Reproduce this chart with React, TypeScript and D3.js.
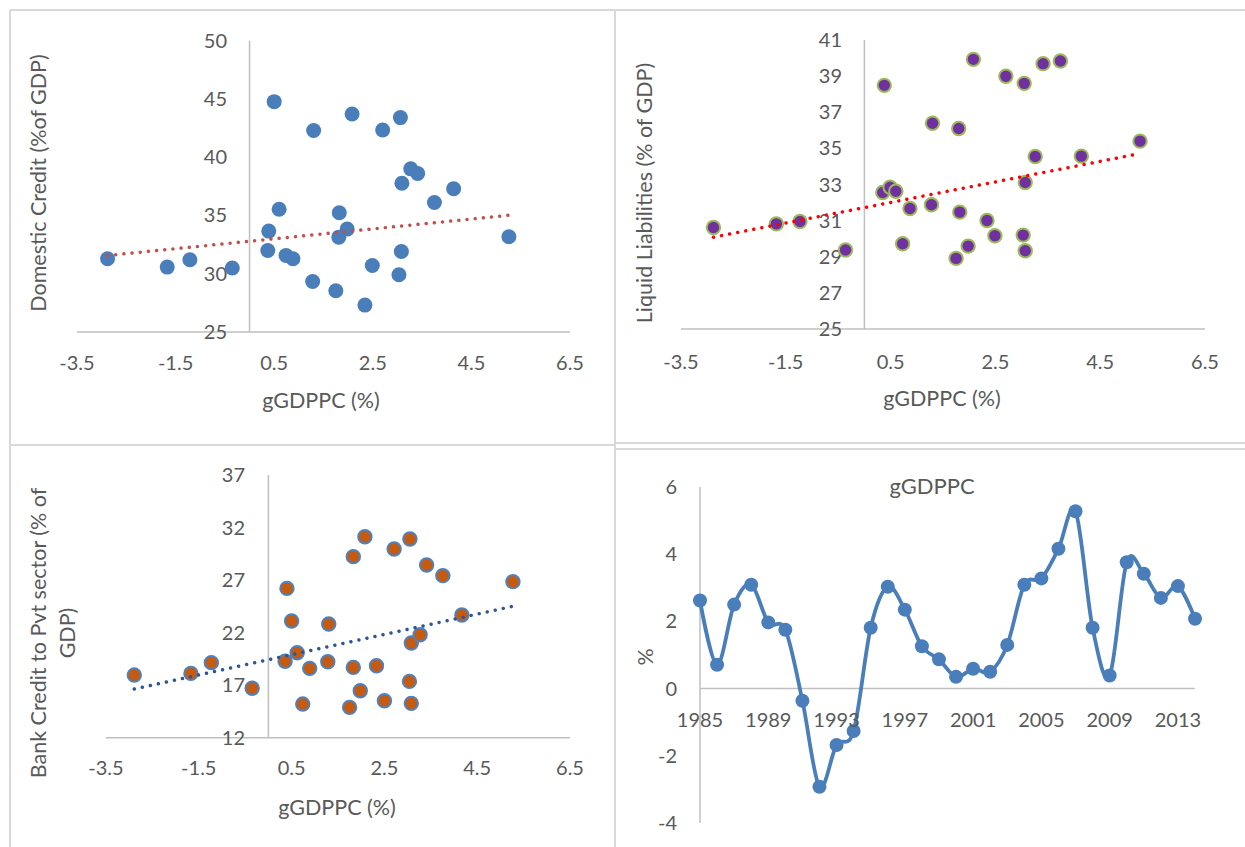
import React from 'react';
import * as d3 from 'd3';

// gGDPPC scatter data (x = growth, y = indicator)
const dcX = [-2.88, -1.67, -1.21, -0.35, 0.37, 0.39, 0.5, 0.6, 0.74, 0.88, 1.28, 1.3, 1.75, 1.81, 1.82, 1.98, 2.08, 2.34, 2.49, 2.7, 3.03, 3.06, 3.08, 3.09, 3.27, 3.41, 3.75, 4.14, 5.26];
const dcY = [31.29, 30.57, 31.2, 30.49, 32.0, 33.66, 44.77, 35.54, 31.57, 31.29, 29.34, 42.29, 28.54, 33.14, 35.23, 33.83, 43.71, 27.31, 30.71, 42.34, 29.91, 43.4, 31.91, 37.77, 39.0, 38.6, 36.11, 37.29, 33.17];
const dcTrend = [32.79, 0.424]; // intercept, slope

const llX = [-2.88, -1.68, -1.23, -0.36, 0.35, 0.38, 0.49, 0.6, 0.73, 0.87, 1.28, 1.3, 1.75, 1.8, 1.82, 1.98, 2.08, 2.34, 2.49, 2.7, 3.03, 3.05, 3.07, 3.07, 3.26, 3.41, 3.74, 4.14, 5.26];
const llY = [30.62, 30.82, 30.95, 29.37, 32.56, 38.49, 32.85, 32.63, 29.72, 31.67, 31.88, 36.39, 28.91, 36.1, 31.47, 29.59, 39.93, 31.01, 30.16, 38.99, 30.2, 38.6, 33.11, 29.33, 34.55, 39.69, 39.84, 34.57, 35.4];
const llTrend = [31.72, 0.569];

const bcX = [-2.89, -1.67, -1.23, -0.35, 0.36, 0.4, 0.5, 0.62, 0.74, 0.89, 1.28, 1.3, 1.75, 1.83, 1.83, 1.98, 2.08, 2.33, 2.5, 2.71, 3.04, 3.05, 3.08, 3.08, 3.27, 3.41, 3.76, 4.17, 5.27];
const bcY = [17.96, 18.12, 19.14, 16.7, 19.27, 26.21, 23.1, 20.09, 15.2, 18.6, 19.23, 22.82, 14.89, 29.23, 18.69, 16.47, 31.13, 18.85, 15.52, 29.96, 17.36, 30.91, 21.01, 15.27, 21.8, 28.43, 27.42, 23.68, 26.85];
const bcTrend = [19.42, 0.965];

const xTicks = [-3.5, -1.5, 0.5, 2.5, 4.5, 6.5];

const years = [1985, 1986, 1987, 1988, 1989, 1990, 1991, 1992, 1993, 1994, 1995, 1996, 1997, 1998, 1999, 2000, 2001, 2002, 2003, 2004, 2005, 2006, 2007, 2008, 2009, 2010, 2011, 2012, 2013, 2014];
const growth = [2.62, 0.71, 2.5, 3.09, 1.97, 1.75, -0.36, -2.92, -1.68, -1.26, 1.81, 3.03, 2.35, 1.26, 0.87, 0.35, 0.59, 0.5, 1.3, 3.09, 3.28, 4.16, 5.28, 1.81, 0.39, 3.76, 3.42, 2.7, 3.05, 2.08];
const yearLabels = [1985, 1989, 1993, 1997, 2001, 2005, 2009, 2013];
const growthTicks = [-4, -2, 0, 2, 4, 6];

const FONT = 'Lato, "Open Sans", sans-serif';
const TXT = '#595959';
const AXIS = '#bfbfbf';
const TITLE_SIZE = 21.5;

type ScatterProps = {
  xs: number[];
  ys: number[];
  trend: number[];
  xRange: [number, number];
  yDomain: [number, number];
  yRange: [number, number];
  yTicks: number[];
  yLabelX: number;
  xLabelY: number;
  titleLines: string[];
  titleX: number[];
  titleY: number;
  xTitle: [number, number];
  fill: string;
  stroke: string;
  trendColor: string;
};

const Scatter: React.FC<ScatterProps> = (p) => {
  const x = d3.scaleLinear().domain([-3.5, 6.5]).range(p.xRange);
  const y = d3.scaleLinear().domain(p.yDomain).range(p.yRange);
  const x0 = d3.min(p.xs)!;
  const x1 = d3.max(p.xs)!;
  const line = d3
    .line<number>()
    .x((d) => x(d))
    .y((d) => y(p.trend[0] + p.trend[1] * d));
  return (
    <g fontFamily={FONT}>
      <line x1={x(-3.5)} x2={x(6.5)} y1={y(p.yDomain[0])} y2={y(p.yDomain[0])} stroke={AXIS} strokeWidth={1.5} />
      <line x1={x(0)} x2={x(0)} y1={y(p.yDomain[0])} y2={y(p.yDomain[1])} stroke={AXIS} strokeWidth={1.5} />
      {p.yTicks.map((t) => (
        <text key={t} x={p.yLabelX} y={y(t)} dy="0.35em" textAnchor="end" fontSize={20} fill={TXT}>
          {t}
        </text>
      ))}
      {xTicks.map((t) => (
        <text key={t} x={x(t)} y={p.xLabelY} dy="0.35em" textAnchor="middle" fontSize={20} fill={TXT}>
          {t}
        </text>
      ))}
      {p.xs.map((d, i) => (
        <circle key={i} cx={x(d)} cy={y(p.ys[i])} r={p.stroke === 'none' ? 7.5 : 6.7} fill={p.fill} stroke={p.stroke} strokeWidth={2} />
      ))}
      <path
        d={line([x0, x1]) || ''}
        fill="none"
        stroke={p.trendColor}
        strokeWidth={3.5}
        strokeDasharray="0.01 8.2"
        strokeLinecap="round"
      />
      {p.titleLines.map((s, i) => (
        <text
          key={i}
          transform={`translate(${p.titleX[i]},${p.titleY}) rotate(-90)`}
          dy="0.35em"
          textAnchor="middle"
          fontSize={TITLE_SIZE}
          fill={TXT}
        >
          {s}
        </text>
      ))}
      <text x={p.xTitle[0]} y={p.xTitle[1]} dy="0.35em" textAnchor="middle" fontSize={TITLE_SIZE} fill={TXT}>
        gGDPPC (%)
      </text>
    </g>
  );
};

const GrowthLine: React.FC = () => {
  const x = d3.scalePoint<number>().domain(years).range([700, 1195]);
  const y = d3.scaleLinear().domain([-4, 6]).range([823, 487]);
  const path = d3
    .line<number>()
    .x((_d, i) => x(years[i])!)
    .y((d) => y(d))
    .curve(d3.curveCardinal.tension(0))(growth);
  return (
    <g fontFamily={FONT}>
      <line x1={700} x2={1195} y1={y(0)} y2={y(0)} stroke={AXIS} strokeWidth={1.5} />
      <line x1={700} x2={700} y1={y(-4)} y2={y(6)} stroke={AXIS} strokeWidth={1.5} />
      {growthTicks.map((t) => (
        <text key={t} x={677} y={y(t)} dy="0.35em" textAnchor="end" fontSize={20} fill={TXT}>
          {t}
        </text>
      ))}
      <path d={path || ''} fill="none" stroke="#4a7ebb" strokeWidth={3.8} />
      {growth.map((d, i) => (
        <circle key={i} cx={x(years[i])} cy={y(d)} r={7} fill="#4a7ebb" />
      ))}
      {yearLabels.map((t) => (
        <text key={t} x={x(t)} y={720} dy="0.35em" textAnchor="middle" fontSize={20} fill={TXT}>
          {t}
        </text>
      ))}
      <text x={932} y={486} dy="0.35em" textAnchor="middle" fontSize={22} fill={TXT}>
        gGDPPC
      </text>
      <text transform="translate(645,657) rotate(-90)" dy="0.35em" textAnchor="middle" fontSize={TITLE_SIZE} fill={TXT}>
        %
      </text>
    </g>
  );
};

export default function App() {
  const border = '#d9d9d9';
  return (
    <svg width={1245} height={847} style={{ position: 'absolute', left: 0, top: 0, background: '#fff' }}>
      <rect width={1245} height={847} fill="#fff" />
      <g stroke={border} strokeWidth={2}>
        <line x1={10} x2={1245} y1={10} y2={10} />
        <line x1={10} x2={10} y1={10} y2={847} />
        <line x1={615} x2={615} y1={10} y2={847} />
        <line x1={10} x2={615} y1={445} y2={445} />
        <line x1={615} x2={1245} y1={443} y2={443} />
        <line x1={615} x2={1245} y1={449} y2={449} />
      </g>
      <Scatter
        xs={dcX}
        ys={dcY}
        trend={dcTrend}
        xRange={[77, 570]}
        yDomain={[25, 50]}
        yRange={[332, 40.7]}
        yTicks={[25, 30, 35, 40, 45, 50]}
        yLabelX={227}
        xLabelY={363}
        titleLines={['Domestic Credit (%of GDP)']}
        titleX={[38]}
        titleY={183}
        xTitle={[321, 400]}
        fill="#4a7ebb"
        stroke="none"
        trendColor="#c0504d"
      />
      <Scatter
        xs={llX}
        ys={llY}
        trend={llTrend}
        xRange={[681, 1205]}
        yDomain={[25, 41]}
        yRange={[329, 40]}
        yTicks={[25, 27, 29, 31, 33, 35, 37, 39, 41]}
        yLabelX={842}
        xLabelY={362}
        titleLines={['Liquid Liabilities (% of GDP)']}
        titleX={[644]}
        titleY={193}
        xTitle={[942, 398]}
        fill="#7030a0"
        stroke="#9bbb59"
        trendColor="#ff0000"
      />
      <Scatter
        xs={bcX}
        ys={bcY}
        trend={bcTrend}
        xRange={[106, 570]}
        yDomain={[12, 37]}
        yRange={[737.7, 475]}
        yTicks={[12, 17, 22, 27, 32, 37]}
        yLabelX={245}
        xLabelY={768}
        titleLines={['Bank Credit to Pvt sector (% of', 'GDP)']}
        titleX={[38, 67]}
        titleY={633}
        xTitle={[337, 807]}
        fill="#c55a11"
        stroke="#4f81bd"
        trendColor="#2f5597"
      />
      <GrowthLine />
    </svg>
  );
}
